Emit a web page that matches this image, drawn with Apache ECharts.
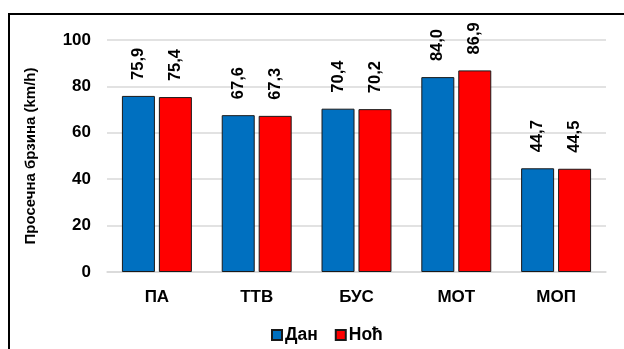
<!DOCTYPE html>
<html>
<head>
<meta charset="utf-8">
<script src="https://cdn.jsdelivr.net/npm/echarts@6/dist/echarts.min.js"></script>
<style>
  html, body { margin: 0; padding: 0; background: #fff; }
  #chart { width: 624px; height: 349px; }
</style>
</head>
<body>
<div id="chart"></div>
<script>
// Vehicle categories and average speeds (km/h) by day and night
const categories = ['ПА', 'ТТВ', 'БУС', 'МОТ', 'МОП'];
const daySpeeds = [75.9, 67.6, 70.4, 84.0, 44.7];
const nightSpeeds = [75.4, 67.3, 70.2, 86.9, 44.5];
const yTicks = { min: 0, max: 100, interval: 20 };
const seriesNames = ['Дан', 'Ноћ'];

const FONT = '"Liberation Sans", Arial, sans-serif';
const fmt = v => v.toFixed(1).replace('.', ',');

const valueLabel = {
  show: true,
  position: 'top',
  rotate: 90,
  align: 'left',
  verticalAlign: 'middle',
  distance: 16,
  fontFamily: FONT,
  fontWeight: 'bold',
  fontSize: 16.5,
  color: '#000',
  formatter: p => fmt(p.value)
};

const chart = echarts.init(document.getElementById('chart'));
chart.setOption({
  animation: false,
  textStyle: { fontFamily: FONT },
  graphic: [{
    type: 'rect',
    shape: { x: 9, y: 14, width: 700, height: 400 },
    style: { fill: 'none', stroke: '#000', lineWidth: 2 },
    silent: true
  }],
  grid: { left: 107, right: 18, top: 40, bottom: 77 },
  legend: {
    top: 321,
    left: 266,
    itemWidth: 10,
    itemHeight: 10,
    itemGap: 17,
    icon: 'rect',
    textStyle: { fontFamily: FONT, fontWeight: 'bold', fontSize: 17.5, color: '#000', padding: [0, 0, 0, -2] },
    data: seriesNames
  },
  xAxis: {
    type: 'category',
    data: categories,
    axisTick: { show: false },
    axisLine: { lineStyle: { color: '#d9d9d9', width: 1.5 } },
    axisLabel: { margin: 17, fontFamily: FONT, fontWeight: 'bold', fontSize: 17, color: '#000' }
  },
  yAxis: {
    type: 'value',
    min: yTicks.min,
    max: yTicks.max,
    interval: yTicks.interval,
    name: 'Просечна брзина (km/h)',
    nameLocation: 'middle',
    nameGap: 69,
    nameTextStyle: { fontFamily: FONT, fontWeight: 'bold', fontSize: 15, color: '#000' },
    axisLine: { show: false },
    axisTick: { show: false },
    axisLabel: { margin: 16, fontFamily: FONT, fontWeight: 'bold', fontSize: 17, color: '#000' },
    splitLine: { lineStyle: { color: '#d9d9d9', width: 1.5 } }
  },
  series: [
    {
      name: seriesNames[0],
      type: 'bar',
      data: daySpeeds,
      barWidth: 33,
      barGap: '12%',
      itemStyle: { color: '#0070C0', borderColor: '#1a1a1a', borderWidth: 1 },
      label: valueLabel
    },
    {
      name: seriesNames[1],
      type: 'bar',
      data: nightSpeeds,
      barWidth: 33,
      itemStyle: { color: '#FF0000', borderColor: '#1a1a1a', borderWidth: 1 },
      label: valueLabel
    }
  ]
});
</script>
</body>
</html>
